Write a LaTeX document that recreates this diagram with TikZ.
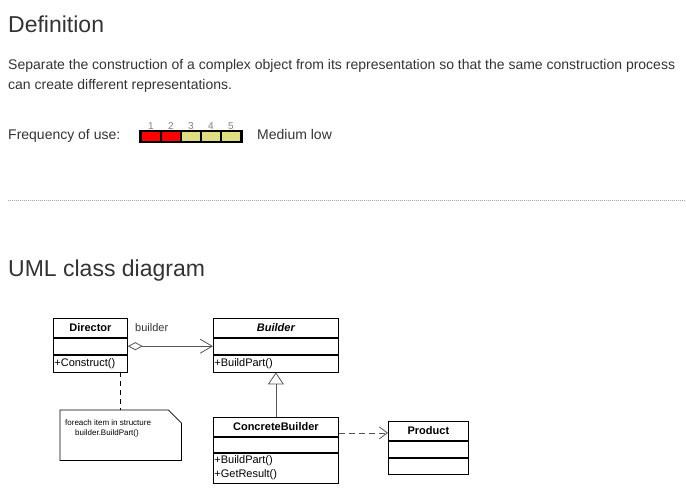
\documentclass[tikz,border=0pt]{standalone}
\usepackage{fontspec}
\setmainfont{Liberation Sans}
\usetikzlibrary{positioning,arrows.meta}

\definecolor{textgray}{HTML}{333333}
\definecolor{linegray}{HTML}{555555}
\definecolor{freqred}{HTML}{FF0000}
\definecolor{freqyellow}{HTML}{DEDE80}

\tikzset{
    heading/.style={anchor=base west, inner sep=0pt, text=textgray, font=\fontsize{23}{28}\selectfont},
    bodytext/.style={anchor=base west, inner sep=0pt, text=textgray, font=\fontsize{14}{20}\selectfont},
    freqcell/.style={rectangle, draw, line width=1.5pt, minimum width=20pt, minimum height=10pt, inner sep=0pt},
    freqnum/.style={inner sep=0pt, text=gray, font=\fontsize{10}{11}\selectfont},
    classname/.style={rectangle, draw, line width=0.8pt, anchor=north west, inner sep=0pt,
        minimum height=19pt, font=\bfseries\fontsize{11}{13}\selectfont},
    classpart/.style={rectangle, draw, line width=0.8pt, inner xsep=1pt, inner ysep=0pt,
        align=left, font=\fontsize{11}{14}\selectfont},
    connector/.style={draw=linegray, line width=0.8pt},
    notebox/.style={rectangle, anchor=north west, inner sep=0pt, minimum width=121pt, minimum height=50pt},
}

\begin{document}
\begin{tikzpicture}[x=1pt, y=-1pt]
    \useasboundingbox (0,0) rectangle (686,497);

    % definition
    \node[heading] (deftitle) at (8,33) {Definition};
    \node[bodytext] (defline1) at (8,70) {Separate the construction of a complex object from its representation so that the same construction process};
    \node[bodytext] (defline2) at (8,90) {can create different representations.};
    \node[bodytext] (freqlabel) at (8,140) {Frequency of use:};
    \foreach \i/\c in {1/freqred, 2/freqred, 3/freqyellow, 4/freqyellow, 5/freqyellow} {
        \node[freqcell, fill=\c] (cell\i) at ({131+20*\i},136.5) {};
        \node[freqnum, above=1pt of cell\i] (num\i) {\i};
    }
    \draw[line width=2pt] (cell1.north west) rectangle (cell5.south east);
    \node[bodytext] (freqvalue) at (257,140) {Medium low};

    \draw[gray!70, line width=1pt, dash pattern=on 1pt off 1pt] (8,201) -- (686,201);

    % uml class diagram
    \node[heading] (umltitle) at (8,277) {UML class diagram};

    \node[classname, minimum width=74pt] (directorhead) at (53,318) {Director};
    \node[classpart, text width=72pt, minimum height=16pt, below=0pt of directorhead] (directorattr) {};
    \node[classpart, text width=72pt, minimum height=17pt, below=0pt of directorattr] (directorops) {+Construct()};

    \node[classname, minimum width=125pt] (builderhead) at (213,318) {\itshape Builder};
    \node[classpart, text width=123pt, minimum height=16pt, below=0pt of builderhead] (builderattr) {};
    \node[classpart, text width=123pt, minimum height=17pt, below=0pt of builderattr] (builderops) {+BuildPart()};

    \node[classname, minimum width=125pt] (cbhead) at (213,417) {ConcreteBuilder};
    \node[classpart, text width=123pt, minimum height=15pt, below=0pt of cbhead] (cbattr) {};
    \node[classpart, text width=123pt, minimum height=30pt, below=0pt of cbattr] (cbops) {+BuildPart()\\+GetResult()};

    \node[classname, minimum width=80pt] (producthead) at (388,421) {Product};
    \node[classpart, text width=78pt, minimum height=16pt, below=0pt of producthead] (productattr) {};
    \node[classpart, text width=78pt, minimum height=16pt, below=0pt of productattr] (productops) {};

    \node[notebox] (note) at (60,410) {};
    \draw[line width=0.8pt] (note.north west) -- ([xshift=-13pt]note.north east)
        -- ([yshift=-13pt]note.north east) -- (note.south east) -- (note.south west) -- cycle;
    \node[anchor=north west, inner sep=0pt, align=left, font=\fontsize{8}{10}\selectfont] (notetext) at (65,420)
        {foreach item in structure\\\hspace*{10pt}builder.BuildPart()};

    \draw[connector, {Diamond[open,length=15pt,width=8pt]}-{Straight Barb[length=12pt,width=14pt]}]
        (directorattr.east) -- (builderattr.west);
    \node[anchor=base west, inner sep=0pt, text=textgray, font=\fontsize{11}{13}\selectfont] (builderrole) at (135,332) {builder};
    \draw[connector, -{Triangle[open,length=12pt,width=16pt]}] (cbhead.north) -- (builderops.south);
    \draw[connector, dash pattern=on 6pt off 4pt, -{Straight Barb[length=8pt,width=12pt]}]
        ([yshift=-6pt]cbhead.east) -- ([yshift=-2pt]producthead.west);
    \draw[line width=0.8pt, dash pattern=on 5pt off 4pt] (note.north |- directorops.south) -- (note.north);
\end{tikzpicture}
\end{document}
